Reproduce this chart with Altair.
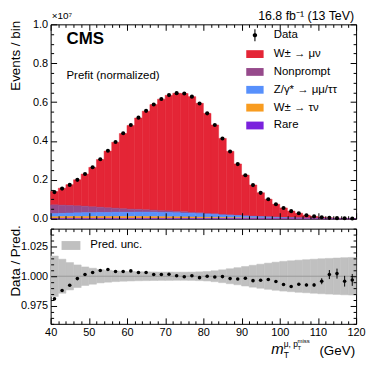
import altair as alt
import pandas as pd

FONT = "Liberation Sans"

# ---------------- data (values in units of 1e7 events / bin) ----------------
bin_lo = list(range(40, 120, 2))
bin_hi = [b + 2 for b in bin_lo]
bin_center = [b + 1 for b in bin_lo]

data_vals = [0.137, 0.155, 0.174, 0.200, 0.230, 0.265, 0.306, 0.350, 0.395, 0.440,
             0.482, 0.520, 0.555, 0.588, 0.616, 0.636, 0.646, 0.644, 0.628, 0.593,
             0.542, 0.482, 0.413, 0.346, 0.281, 0.224, 0.173, 0.133, 0.100, 0.074,
             0.055, 0.039, 0.028, 0.018, 0.012, 0.0075, 0.0045, 0.003, 0.002, 0.0012]

w_munu = [0.0685, 0.0872, 0.1071, 0.1342, 0.1655, 0.2030, 0.2453, 0.2918, 0.3392, 0.3871,
          0.4306, 0.4701, 0.5072, 0.5434, 0.5739, 0.5949, 0.6080, 0.6091, 0.5952, 0.5631,
          0.5145, 0.4568, 0.3909, 0.3267, 0.2636, 0.2093, 0.1603, 0.1220, 0.0904, 0.0660,
          0.0489, 0.0342, 0.0239, 0.0147, 0.0094, 0.0056, 0.0030, 0.0019, 0.0011, 0.0005]

nonprompt = [0.045, 0.042, 0.039, 0.036, 0.033, 0.030, 0.027, 0.024, 0.021, 0.018,
             0.016, 0.014, 0.012, 0.010, 0.009, 0.008, 0.007, 0.006, 0.005, 0.0045,
             0.004, 0.0035, 0.003, 0.0026, 0.0022, 0.0019, 0.0016, 0.0014, 0.0012, 0.001,
             0.0008, 0.0007, 0.0006, 0.0005, 0.0004, 0.0003, 0.0002, 0.0002, 0.0001, 0.0001]

zgamma = [0.016, 0.017, 0.018, 0.019, 0.020, 0.020, 0.021, 0.021, 0.022, 0.022,
          0.022, 0.023, 0.023, 0.023, 0.022, 0.022, 0.021, 0.020, 0.019, 0.018,
          0.016, 0.015, 0.013, 0.012, 0.011, 0.009, 0.008, 0.007, 0.006, 0.005,
          0.004, 0.003, 0.0025, 0.002, 0.0015, 0.001, 0.0008, 0.0006, 0.0005, 0.0004]

w_taunu = [0.009, 0.0095, 0.010, 0.010, 0.010, 0.010, 0.010, 0.010, 0.010, 0.010,
           0.010, 0.010, 0.0098, 0.0095, 0.009, 0.0088, 0.0085, 0.008, 0.0075, 0.007,
           0.0065, 0.006, 0.0052, 0.0045, 0.004, 0.0034, 0.0029, 0.0024, 0.002, 0.0017,
           0.0012, 0.001, 0.0008, 0.0006, 0.0005, 0.0004, 0.0003, 0.0002, 0.0002, 0.0001]

rare = [0.0012, 0.0012, 0.0012, 0.0012, 0.0012, 0.0012, 0.0012, 0.0012, 0.0012, 0.0012,
        0.0012, 0.0012, 0.0012, 0.0012, 0.0012, 0.0012, 0.0012, 0.0012, 0.0011, 0.0011,
        0.001, 0.001, 0.001, 0.0009, 0.0009, 0.0008, 0.0008, 0.0007, 0.0007, 0.0006,
        0.0005, 0.0004, 0.0004, 0.0003, 0.0003, 0.0002, 0.0002, 0.0001, 0.0001, 0.0001]

ratio = [0.981, 0.988, 0.9924, 0.998, 1.0014, 1.0032, 1.0048, 1.0057, 1.004, 1.004,
         1.0045, 1.0032, 1.0032, 1.0015, 1.0014, 1.0017, 1.0004, 0.9995, 1.0004, 0.9988,
         1.0, 0.9994, 0.9997, 0.998, 0.9977, 0.9983, 0.9963, 0.9966, 0.9972, 0.9955,
         0.993, 0.9913, 0.9933, 0.9927, 0.9927, 0.9958, 1.0014, 1.0022, 0.9958, 0.9969]

ratio_err = [0.0003] * 20 + [0.0003, 0.0003, 0.0003, 0.0004, 0.0004, 0.0004, 0.0005, 0.0005, 0.0005, 0.0006,
                             0.0006, 0.0008, 0.0009, 0.0011, 0.0014, 0.0025, 0.0038, 0.0042, 0.0045, 0.005]

pred_unc = [0.017, 0.0143, 0.0115, 0.0095, 0.0078, 0.0067, 0.0056, 0.005, 0.0045, 0.0042,
            0.004, 0.0038, 0.0037, 0.0036, 0.0035, 0.0035, 0.0034, 0.0034, 0.0035, 0.0037,
            0.004, 0.0046, 0.0054, 0.0063, 0.0072, 0.0082, 0.0092, 0.0101, 0.011, 0.0118,
            0.0125, 0.013, 0.0135, 0.0139, 0.0143, 0.0147, 0.015, 0.0153, 0.0156, 0.0158]

ref_line = [1.0]

proc_names = ["W\u00b1 \u2192 \u03bc\u03bd", "Nonprompt", "Z/\u03b3* \u2192 \u03bc\u03bc/\u03c4\u03c4",
              "W\u00b1 \u2192 \u03c4\u03bd", "Rare"]
proc_colors = ["#e42536", "#964a8b", "#5790fc", "#f89c20", "#7a21dd"]
proc_values = [w_munu, nonprompt, zgamma, w_taunu, rare]
stack_rank = [4, 3, 2, 1, 0]

x_ticks = list(range(40, 121, 2))
y_ticks_main = [round(0.05 * i, 2) for i in range(21)]
y_ticks_ratio = [round(0.96 + 0.005 * i, 3) for i in range(17)]

# ---------------- tables ----------------
rows = []
for name, vals, rk in zip(proc_names, proc_values, stack_rank):
    for lo, hi, v in zip(bin_lo, bin_hi, vals):
        rows.append({"lo": lo, "hi": hi, "proc": name, "val": v, "rank": rk})
stack_df = pd.DataFrame(rows)

pts_df = pd.DataFrame({"x": bin_center, "y": data_vals, "s": ["Data"] * len(bin_center)})

ratio_df = pd.DataFrame({
    "x": bin_center, "blo": bin_lo, "bhi": bin_hi, "r": ratio,
    "rlo": [r - e for r, e in zip(ratio, ratio_err)],
    "rhi": [r + e for r, e in zip(ratio, ratio_err)],
    "ulo": [1 - u for u in pred_unc], "uhi": [1 + u for u in pred_unc],
    "u": ["Pred. unc."] * len(bin_center),
})
ref_df = pd.DataFrame({"y": ref_line})
dummy = pd.DataFrame({"_": [0]})

# ---------------- helpers ----------------
W, H1, H2 = 308, 196, 96
x_scale = alt.Scale(domain=[40, 120], nice=False, zero=False)
y_main = alt.Scale(domain=[0, 1], nice=False, zero=False)
y_ratio = alt.Scale(domain=[0.96, 1.04], nice=False, zero=False)

X_MAJOR = "datum.value % 10 === 0"
Y_MAJOR = "round(datum.value * 100) % 20 === 0"
R_MAJOR = "round(datum.value * 1000) % 25 === 0"


def axis(orient, values, major, labels=False, label_expr=None, **extra):
    minor = "!(" + major + ")"
    kw = dict(orient=orient, values=values, offset=-6, tickSize=6, tickWidth=1, tickColor="black",
              tickDash={"condition": {"test": minor, "value": [3, 3]}, "value": [6, 0]},
              tickDashOffset={"condition": {"test": minor, "value": 3}, "value": 0},
              domain=False, grid=False, labels=labels, zindex=1, minExtent=0)
    if labels:
        kw.update(labelExpr=label_expr, labelOverlap=False, labelFlush=False, labelFont=FONT,
                  labelFontSize=11, labelColor="black", labelPadding=3)
    kw.update(extra)
    if "title" not in kw:
        kw["title"] = None
    return alt.Axis(**kw)


def ytitle(text):
    return dict(title=text, titleFont=FONT, titleFontSize=13.5, titleFontWeight="normal",
                titleColor="black", titleAnchor="end", titleX=-34, titleY=-4)


def txt(text, x, y, size, align="left", **kw):
    return alt.Chart(dummy).mark_text(text=text, fontSize=size, align=align, baseline="alphabetic",
                                      font=FONT, color="black", **kw).encode(
        x=alt.value(x), y=alt.value(y))


# ---------------- main panel ----------------
bars = alt.Chart(stack_df).transform_stack(
    stack="val", as_=["y0", "y1"], groupby=["lo"],
    sort=[alt.SortField("rank", order="ascending")], offset="zero"
).mark_bar(strokeWidth=0.5).encode(
    x=alt.X("lo:Q", scale=x_scale, axis=axis("bottom", x_ticks, X_MAJOR)),
    x2="hi:Q",
    y=alt.Y("y0:Q", scale=y_main,
            axis=axis("left", y_ticks_main, Y_MAJOR, labels=True,
                      label_expr=Y_MAJOR + " ? format(datum.value, '.1f') : ''", **ytitle("Events / bin"))),
    y2="y1:Q",
    color=alt.Color("proc:N", scale=alt.Scale(domain=proc_names, range=proc_colors),
                    legend=alt.Legend(title=None, orient="none", legendX=197, legendY=21,
                                      symbolType="M-1,-0.45H1V0.45H-1Z", symbolSize=306,
                                      symbolStrokeWidth=0, labelFont=FONT, labelFontSize=11.5,
                                      labelColor="black", labelOffset=10, rowPadding=3,
                                      padding=0, labelLimit=300)),
    stroke=alt.Stroke("proc:N", scale=alt.Scale(domain=proc_names, range=proc_colors), legend=None),
)

DATA_PATH = ("M-0.09,-1H0.09V-0.3H-0.09Z M-0.09,0.3H0.09V1H-0.09Z "
             "M0.37,0A0.37,0.37 0 1,1 -0.37,0A0.37,0.37 0 1,1 0.37,0Z")

pts = alt.Chart(pts_df).mark_point(filled=True, size=17, opacity=1, shape="circle").encode(
    x=alt.X("x:Q", scale=x_scale, axis=axis("top", x_ticks, X_MAJOR)),
    y=alt.Y("y:Q", scale=y_main, axis=axis("right", y_ticks_main, Y_MAJOR)),
    color=alt.Color("s:N", scale=alt.Scale(domain=["Data"], range=["black"]),
                    legend=alt.Legend(title=None, orient="none", legendX=200, legendY=5,
                                      symbolType=DATA_PATH, symbolSize=144, symbolStrokeWidth=0,
                                      labelFont=FONT, labelFontSize=11.5, labelColor="black",
                                      labelOffset=13, padding=0)),
)

main = alt.layer(
    bars, pts,
    txt("CMS", 16, 19.5, 17, fontWeight="bold"),
    txt("Prefit (normalized)", 16, 55, 11.5),
    txt("\u00d710\u2077", 1, -5.5, 10),
    txt("16.8 fb\u207b\u00b9 (13 TeV)", 306, -4.5, 12.5, align="right"),
).resolve_scale(x="independent", y="independent", color="independent", stroke="independent"
).properties(width=W, height=H1)

# ---------------- ratio panel ----------------
band = alt.Chart(ratio_df).mark_rect(strokeWidth=0.5).encode(
    x=alt.X("blo:Q", scale=x_scale,
            axis=axis("bottom", x_ticks, X_MAJOR, labels=True,
                      label_expr=X_MAJOR + " ? datum.label : ''")),
    x2="bhi:Q",
    y=alt.Y("ulo:Q", scale=y_ratio,
            axis=axis("left", y_ticks_ratio, R_MAJOR, labels=True,
                      label_expr=R_MAJOR + " ? format(datum.value, '.3f') : ''", **ytitle("Data / Pred."))),
    y2="uhi:Q",
    color=alt.Color("u:N", scale=alt.Scale(domain=["Pred. unc."], range=["#c0c0c0"]),
                    legend=alt.Legend(title=None, orient="none", legendX=11, legendY=7.5,
                                      symbolType="M-1,-0.47H1V0.47H-1Z", symbolSize=361,
                                      symbolStrokeWidth=0, labelFont=FONT, labelFontSize=11.5,
                                      labelColor="black", labelOffset=10, padding=0)),
    stroke=alt.Stroke("u:N", scale=alt.Scale(domain=["Pred. unc."], range=["#c0c0c0"]), legend=None),
)

ref = alt.Chart(ref_df).mark_rule(color="#9a9a9a", strokeWidth=1).encode(
    y=alt.Y("y:Q", scale=y_ratio, axis=None))

errs = alt.Chart(ratio_df).mark_rule(color="black", strokeWidth=1).encode(
    x=alt.X("x:Q", scale=x_scale, axis=None),
    y=alt.Y("rlo:Q", scale=y_ratio, axis=None), y2="rhi:Q")

rpts = alt.Chart(ratio_df).mark_point(filled=True, size=13, opacity=1, shape="circle", color="black").encode(
    x=alt.X("x:Q", scale=x_scale, axis=axis("top", x_ticks, X_MAJOR)),
    y=alt.Y("r:Q", scale=y_ratio, axis=axis("right", y_ticks_ratio, R_MAJOR)))

lower = alt.layer(
    band, ref, errs, rpts,
    txt("m", 222.5, 126.5, 15, fontStyle="italic"),
    txt("T", 235, 130, 8.5),
    txt("\u03bc, p", 235, 119.5, 8.5),
    txt("T", 249, 122, 6),
    txt("miss", 249, 115, 6),
    txt("(GeV)", 307, 127, 13.5, align="right"),
).resolve_scale(x="independent", y="independent", color="independent", stroke="independent"
).properties(width=W, height=H2)

chart = alt.vconcat(main, lower, spacing=10, bounds="flush").resolve_scale(
    x="independent", y="independent", color="independent", stroke="independent"
).properties(padding={"left": 0, "top": 0, "right": 0, "bottom": 0}
).configure(font=FONT).configure_view(stroke="black", strokeWidth=1)

chart.save("out.html", embed_options={"renderer": "svg", "actions": False})
